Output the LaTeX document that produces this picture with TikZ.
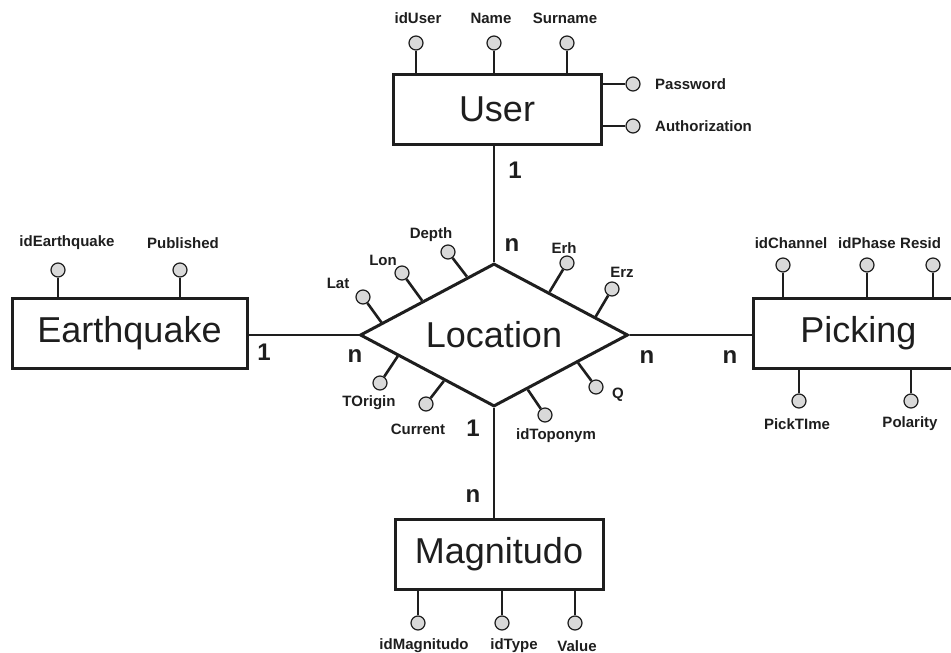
\documentclass[tikz,border=0pt]{standalone}
\usepackage{fontspec}
\setmainfont{Liberation Sans}
\usetikzlibrary{shapes.geometric,calc}
\definecolor{ink}{HTML}{1E1E1E}
\definecolor{bubble}{HTML}{D9D9D9}
\tikzset{
  entity/.style={draw=ink, line width=3pt, fill=white, rectangle, inner sep=0pt, minimum height=70pt, font=\fontsize{36}{40}\selectfont, text=ink},
  relbox/.style={draw=ink, line width=3pt, fill=white, diamond, inner sep=0pt, minimum width=268pt, minimum height=143pt, aspect=1.87, font=\fontsize{36}{40}\selectfont, text=ink},
  attr/.style={circle, draw=ink, line width=1.2pt, fill=bubble, minimum size=14pt, inner sep=0pt},
  alabel/.style={font=\fontsize{15}{17}\selectfont\bfseries, text=ink, inner sep=0pt},
  card/.style={font=\fontsize{24}{26}\selectfont\bfseries, text=ink, inner sep=0pt},
  link/.style={draw=ink, line width=2.6pt},
  stub/.style={draw=ink, line width=2.6pt}
}
\begin{document}
\begin{tikzpicture}[x=1pt,y=-1pt]
\useasboundingbox (0,0) rectangle (951,653);
\clip (0,0) rectangle (951,653);
\fill[white] (0,0) rectangle (951,653);

% relationship
\node[relbox] (loc) at (494,335) {Location};

% entities
\node[entity, minimum width=208pt] (user) at (497,109.5) {User};
\node[entity, minimum width=235pt] (eq) at (129.5,333) {Earthquake};
\node[entity, minimum width=210pt] (pick) at (858.5,333) {Picking};
\node[entity, minimum width=208pt] (mag) at (499,554) {Magnitudo};

% connectors
\draw[link] (loc.north) -- (loc.north |- user.south);
\draw[link] (loc.south) -- (loc.south |- mag.north);
\draw[link] (loc.west) -- (loc.west -| eq.east);
\draw[link] (loc.east) -- (loc.east -| pick.west);

% cardinalities
\node[card] (c1) at (515,170) {1};
\node[card] (c2) at (512,245) {n};
\node[card] (c3) at (264,352) {1};
\node[card] (c4) at (355,356) {n};
\node[card] (c5) at (647,357) {n};
\node[card] (c6) at (730,357) {n};
\node[card] (c7) at (473,428) {1};
\node[card] (c8) at (473,496) {n};

% User attributes
\node[attr] (uid) at (416,43) {};
\node[attr] (uname) at (494,43) {};
\node[attr] (usur) at (567,43) {};
\node[attr] (upw) at (633,84) {};
\node[attr] (uauth) at (633,126) {};
\draw[stub] (uid) -- (uid |- user.north);
\draw[stub] (uname) -- (uname |- user.north);
\draw[stub] (usur) -- (usur |- user.north);
\draw[stub] (upw) -- (upw -| user.east);
\draw[stub] (uauth) -- (uauth -| user.east);
\node[alabel] (luid) at (418,18) {idUser};
\node[alabel] (luname) at (491,18) {Name};
\node[alabel] (lusur) at (565,18) {Surname};
\node[alabel, anchor=west] (lupw) at (655,84) {Password};
\node[alabel, anchor=west] (luauth) at (655,126) {Authorization};

% Earthquake attributes
\node[attr] (eid) at (58,270) {};
\node[attr] (epub) at (180,270) {};
\draw[stub] (eid) -- (eid |- eq.north);
\draw[stub] (epub) -- (epub |- eq.north);
\node[alabel] (leid) at (67,243) {idEarthquake};
\node[alabel] (lepub) at (183,243) {Published};

% Picking attributes
\node[attr] (pch) at (783,265) {};
\node[attr] (pph) at (867,265) {};
\node[attr] (pres) at (933,265) {};
\node[attr] (ptime) at (799,401) {};
\node[attr] (ppol) at (911,401) {};
\draw[stub] (pch) -- (pch |- pick.north);
\draw[stub] (pph) -- (pph |- pick.north);
\draw[stub] (pres) -- (pres |- pick.north);
\draw[stub] (ptime) -- (ptime |- pick.south);
\draw[stub] (ppol) -- (ppol |- pick.south);
\node[alabel] (lpch) at (791,243) {idChannel};
\node[alabel] (lpph) at (867,243) {idPhase};
\node[alabel, anchor=west] (lpres) at (900,243) {Resid};
\node[alabel] (lptime) at (797,424) {PickTIme};
\node[alabel] (lppol) at (910,424) {Polarity};

% Magnitudo attributes
\node[attr] (mid) at (418,623) {};
\node[attr] (mtype) at (502,623) {};
\node[attr] (mval) at (575,623) {};
\draw[stub] (mid) -- (mid |- mag.south);
\draw[stub] (mtype) -- (mtype |- mag.south);
\draw[stub] (mval) -- (mval |- mag.south);
\node[alabel] (lmid) at (424,646) {idMagnitudo};
\node[alabel] (lmtype) at (514,646) {idType};
\node[alabel] (lmval) at (577,646) {Value};

% Location attributes
\coordinate (bLat) at ($(loc.west)!0.17!(loc.north)$);
\coordinate (bLon) at ($(loc.west)!0.47!(loc.north)$);
\coordinate (bDepth) at ($(loc.west)!0.80!(loc.north)$);
\coordinate (bErh) at ($(loc.north)!0.41!(loc.east)$);
\coordinate (bErz) at ($(loc.north)!0.75!(loc.east)$);
\coordinate (bTO) at ($(loc.west)!0.29!(loc.south)$);
\coordinate (bCur) at ($(loc.west)!0.63!(loc.south)$);
\coordinate (bTop) at ($(loc.south)!0.25!(loc.east)$);
\coordinate (bQ) at ($(loc.south)!0.62!(loc.east)$);
\node[attr] (aLat) at (363,297) {};
\node[attr] (aLon) at (402,273) {};
\node[attr] (aDepth) at (448,252) {};
\node[attr] (aErh) at (567,263) {};
\node[attr] (aErz) at (612,289) {};
\node[attr] (aTO) at (380,383) {};
\node[attr] (aCur) at (426,404) {};
\node[attr] (aTop) at (545,415) {};
\node[attr] (aQ) at (596,387) {};
\draw[stub] (bLat) -- (aLat);
\draw[stub] (bLon) -- (aLon);
\draw[stub] (bDepth) -- (aDepth);
\draw[stub] (bErh) -- (aErh);
\draw[stub] (bErz) -- (aErz);
\draw[stub] (bTO) -- (aTO);
\draw[stub] (bCur) -- (aCur);
\draw[stub] (bTop) -- (aTop);
\draw[stub] (bQ) -- (aQ);
\node[alabel] (lLat) at (338,283) {Lat};
\node[alabel] (lLon) at (383,260) {Lon};
\node[alabel] (lDepth) at (431,235) {Depth};
\node[alabel] (lErh) at (564,248) {Erh};
\node[alabel] (lErz) at (622,272) {Erz};
\node[alabel] (lTO) at (369,403) {TOrigin};
\node[alabel] (lCur) at (418,429) {Current};
\node[alabel] (lTop) at (556,436) {idToponym};
\node[alabel] (lQ) at (618,395) {Q};
\end{tikzpicture}
\end{document}
